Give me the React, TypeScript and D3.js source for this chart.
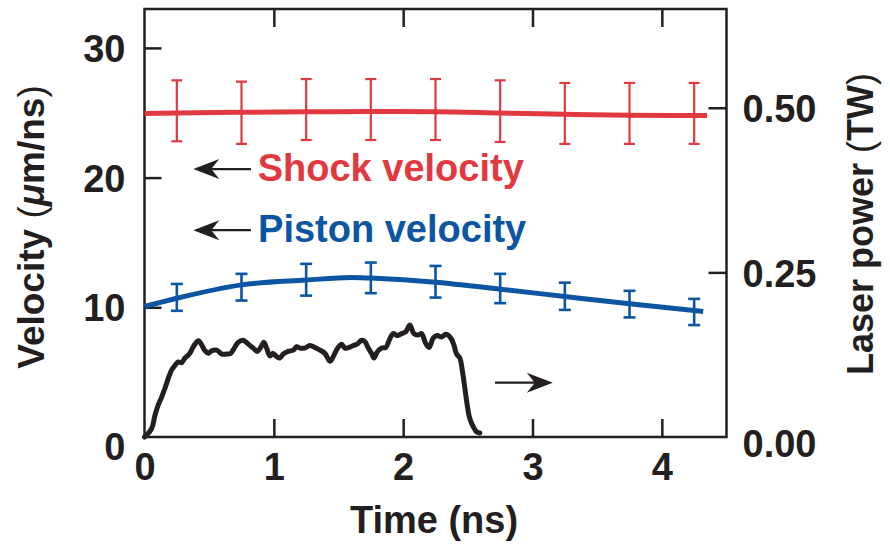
import React, { useEffect, useRef } from 'react';
import * as d3 from 'd3';

// time axis ticks (ns), velocity ticks (um/ns), laser power ticks (TW)
const timeTicks = [0, 1, 2, 3, 4];
const velocityTicks = [0, 10, 20, 30];
const powerTicks = [0, 0.25, 0.5];
const powerTickLabels = ['0.00', '0.25', '0.50'];

// smooth fits
const shockFitT = [0, 0.25, 0.75, 1.25, 1.75, 2.25, 2.75, 3.25, 3.75, 4.25, 4.35];
const shockFitV = [24.95, 24.98, 25.03, 25.07, 25.1, 25.08, 24.98, 24.88, 24.8, 24.78, 24.78];
const pistonFitT = [0, 0.25, 0.75, 1.25, 1.6, 1.75, 2.25, 2.75, 3.25, 3.75, 4.25, 4.32];
const pistonFitV = [10.06, 10.7, 11.73, 12.1, 12.3, 12.25, 11.94, 11.4, 10.83, 10.27, 9.75, 9.68];

// error bars
const errT = [0.25, 0.75, 1.25, 1.75, 2.25, 2.75, 3.25, 3.75, 4.25];
const shockHi = [27.5, 27.4, 27.6, 27.6, 27.6, 27.5, 27.3, 27.3, 27.3];
const shockLo = [22.8, 22.6, 22.9, 22.9, 22.9, 22.75, 22.6, 22.6, 22.6];
const pistonHi = [11.8, 12.58, 13.35, 13.45, 13.19, 12.58, 11.9, 11.27, 10.65];
const pistonLo = [9.73, 10.52, 10.9, 11.09, 10.75, 10.32, 9.8, 9.22, 8.63];

// laser pulse (TW)
const laserT = [0, 0.017, 0.056, 0.081, 0.107, 0.133, 0.158, 0.184, 0.21, 0.236, 0.261, 0.287, 0.313, 0.346, 0.372, 0.39, 0.416, 0.442, 0.468, 0.493, 0.519, 0.558, 0.597, 0.635, 0.666, 0.694, 0.725, 0.764, 0.802, 0.841, 0.872, 0.898, 0.923, 0.944, 0.97, 0.995, 1.022, 1.047, 1.073, 1.111, 1.15, 1.176, 1.202, 1.24, 1.279, 1.318, 1.356, 1.395, 1.434, 1.459, 1.49, 1.524, 1.549, 1.583, 1.614, 1.645, 1.679, 1.704, 1.73, 1.756, 1.774, 1.799, 1.833, 1.866, 1.892, 1.923, 1.954, 1.988, 2.021, 2.052, 2.083, 2.116, 2.142, 2.175, 2.201, 2.232, 2.263, 2.297, 2.33, 2.366, 2.392, 2.413, 2.438, 2.459, 2.477, 2.495, 2.515, 2.541, 2.567, 2.593];
const laserP = [0, 0.003, 0.013, 0.033, 0.049, 0.061, 0.074, 0.089, 0.102, 0.109, 0.114, 0.113, 0.12, 0.126, 0.135, 0.141, 0.146, 0.14, 0.131, 0.127, 0.131, 0.132, 0.126, 0.126, 0.127, 0.135, 0.144, 0.147, 0.141, 0.135, 0.13, 0.136, 0.144, 0.135, 0.123, 0.127, 0.122, 0.12, 0.126, 0.13, 0.132, 0.137, 0.135, 0.135, 0.139, 0.136, 0.132, 0.127, 0.115, 0.122, 0.134, 0.141, 0.135, 0.136, 0.139, 0.141, 0.147, 0.145, 0.135, 0.127, 0.12, 0.129, 0.135, 0.136, 0.147, 0.157, 0.154, 0.157, 0.16, 0.17, 0.157, 0.155, 0.157, 0.142, 0.136, 0.15, 0.154, 0.152, 0.156, 0.151, 0.14, 0.126, 0.12, 0.099, 0.074, 0.049, 0.028, 0.016, 0.008, 0.006];

const RED = '#e1393f';
const BLUE = '#0b55a2';
const INK = '#231f20';
const FONT = '"Liberation Sans", Arial, Helvetica, sans-serif';

const App = () => {
  const ref = useRef<SVGSVGElement | null>(null);

  useEffect(() => {
    document.body.style.margin = '0';
    const svg = d3.select(ref.current);
    svg.selectAll('*').remove();

    const left = 144.5, right = 726.5, top = 9, bottom = 437;
    const x = d3.scaleLinear().domain([0, 4.5]).range([left, right]);
    const yV = d3.scaleLinear().domain([0, 33]).range([bottom, top]);
    const yP = d3.scaleLinear().domain([0, 0.65]).range([bottom, top]);

    const styleAxis = (g) => {
      g.select('.domain').remove();
      g.selectAll('line').attr('stroke', INK).attr('stroke-width', 2.5);
      g.selectAll('text')
        .attr('fill', INK)
        .attr('font-family', FONT)
        .attr('font-weight', 'bold')
        .attr('font-size', 38);
    };

    // axes with inward ticks
    const gx = svg.append('g').attr('transform', `translate(0,${bottom})`)
      .call(d3.axisBottom(x).tickValues(timeTicks).tickFormat(d3.format('d')).tickSize(-18).tickPadding(16));
    styleAxis(gx);
    gx.selectAll('.tick').filter((d) => d === 0).select('line').remove();

    const gxTop = svg.append('g').attr('transform', `translate(0,${top})`)
      .call(d3.axisTop(x).tickValues(timeTicks.slice(1)).tickFormat(() => '').tickSize(-18));
    styleAxis(gxTop);

    const gl = svg.append('g').attr('transform', `translate(${left},0)`)
      .call(d3.axisLeft(yV).tickValues(velocityTicks).tickSize(-17).tickPadding(19));
    styleAxis(gl);
    gl.selectAll('.tick').filter((d) => d === 0).select('line').remove();
    gl.selectAll('text').attr('dy', (d) => (d === 0 ? '0.6em' : '0.36em'));

    const gr = svg.append('g').attr('transform', `translate(${right},0)`)
      .call(d3.axisRight(yP).tickValues(powerTicks).tickFormat((d, i) => powerTickLabels[i]).tickSize(-18).tickPadding(16));
    styleAxis(gr);
    gr.selectAll('.tick').filter((d) => d === 0).select('line').remove();
    gr.selectAll('text').attr('dy', (d) => (d === 0 ? '0.5em' : '0.36em'));

    // frame
    svg.append('rect')
      .attr('x', left).attr('y', top)
      .attr('width', right - left).attr('height', bottom - top)
      .attr('fill', 'none').attr('stroke', INK).attr('stroke-width', 2.5);

    // laser pulse
    const laserLine = d3.line<number>().x((d, i) => x(laserT[i])).y((d) => yP(d)).curve(d3.curveCatmullRom);
    svg.append('path').datum(laserP).attr('d', laserLine)
      .attr('fill', 'none').attr('stroke', INK).attr('stroke-width', 5)
      .attr('stroke-linejoin', 'round').attr('stroke-linecap', 'round');

    // error bars
    const drawErr = (hi, lo, color, cap, sw) => {
      const g = svg.append('g').attr('stroke', color).attr('stroke-width', sw);
      errT.forEach((t, i) => {
        const cx = x(t);
        g.append('line').attr('x1', cx).attr('x2', cx).attr('y1', yV(hi[i])).attr('y2', yV(lo[i]));
        g.append('line').attr('x1', cx - cap / 2).attr('x2', cx + cap / 2).attr('y1', yV(hi[i])).attr('y2', yV(hi[i]));
        g.append('line').attr('x1', cx - cap / 2).attr('x2', cx + cap / 2).attr('y1', yV(lo[i])).attr('y2', yV(lo[i]));
      });
    };

    const fit = (ts) => d3.line<number>().x((d, i) => x(ts[i])).y((d) => yV(d)).curve(d3.curveMonotoneX);
    svg.append('path').datum(shockFitV).attr('d', fit(shockFitT))
      .attr('fill', 'none').attr('stroke', RED).attr('stroke-width', 5);
    svg.append('path').datum(pistonFitV).attr('d', fit(pistonFitT))
      .attr('fill', 'none').attr('stroke', BLUE).attr('stroke-width', 5);
    drawErr(shockHi, shockLo, RED, 11, 2.2);
    drawErr(pistonHi, pistonLo, BLUE, 12, 2.6);

    // arrows
    const arrow = (x0, x1, y, dir) => {
      const tip = dir < 0 ? x0 : x1;
      const tail = dir < 0 ? x1 : x0;
      const s = dir < 0 ? 1 : -1;
      svg.append('line').attr('x1', tip + s * 16).attr('x2', tail).attr('y1', y).attr('y2', y)
        .attr('stroke', INK).attr('stroke-width', 2.2);
      svg.append('path')
        .attr('d', `M${tip},${y} L${tip + s * 26},${y - 10} L${tip + s * 18},${y} L${tip + s * 26},${y + 10} Z`)
        .attr('fill', INK);
    };
    arrow(x(0.377), x(0.823), yV(20.66), -1);
    arrow(x(0.377), x(0.823), yV(15.95), -1);
    arrow(x(2.71), x(3.157), yP(0.0825), 1);

    const label = (txt, tx, vy, color) => {
      svg.append('text').attr('x', x(tx)).attr('y', yV(vy))
        .attr('font-family', FONT).attr('font-weight', 'bold').attr('font-size', 38)
        .attr('fill', color).text(txt);
    };
    label('Shock velocity', 0.875, 19.7, RED);
    label('Piston velocity', 0.878, 15.0, BLUE);

    // axis titles
    svg.append('text').attr('x', 434).attr('y', 533).attr('text-anchor', 'middle')
      .attr('font-family', FONT).attr('font-weight', 'bold').attr('font-size', 38).attr('fill', INK)
      .text('Time (ns)');

    const yt = svg.append('text').attr('transform', 'translate(44,227) rotate(-90)').attr('text-anchor', 'middle')
      .attr('font-family', FONT).attr('font-weight', 'bold').attr('font-size', 37).attr('fill', INK);
    yt.append('tspan').text('Velocity ');
    yt.append('tspan').attr('font-weight', 'normal').text('(');
    yt.append('tspan').attr('font-style', 'italic').text('\u03bc');
    yt.append('tspan').text('m/ns');
    yt.append('tspan').attr('font-weight', 'normal').text(')');

    const rt = svg.append('text').attr('transform', 'translate(873,224) rotate(-90)').attr('text-anchor', 'middle')
      .attr('font-family', FONT).attr('font-weight', 'bold').attr('font-size', 36).attr('fill', INK);
    rt.append('tspan').text('Laser power ');
    rt.append('tspan').attr('font-weight', 'normal').text('(');
    rt.append('tspan').text('TW');
    rt.append('tspan').attr('font-weight', 'normal').text(')');
  }, []);

  return <svg ref={ref} width={890} height={544} style={{ display: 'block', background: '#fff' }} />;
};

export default App;
